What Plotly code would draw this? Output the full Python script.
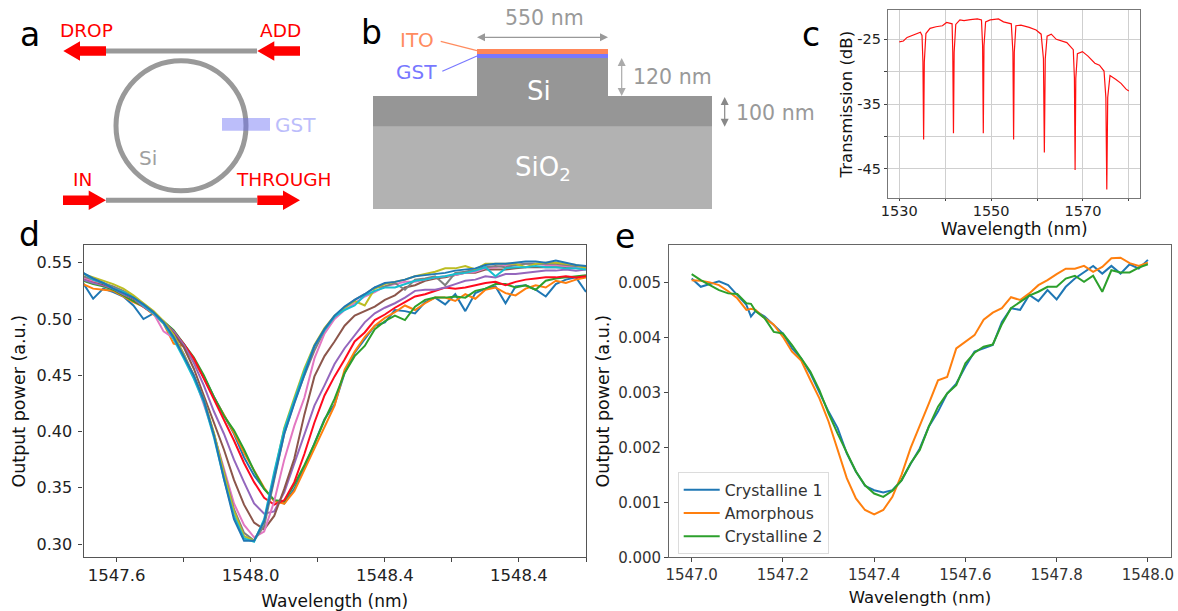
import plotly.graph_objects as go

W, H = 1178, 611
FONT = "DejaVu Sans"

# ---------- panel c ----------
c_wavelength = [1530, 1530.9, 1531.7, 1532.7, 1533.8, 1534.6, 1534.95, 1535.15, 1535.3, 1535.45, 1535.8,
                1536.7, 1538, 1539.4, 1540.3, 1541.5, 1541.65, 1541.8, 1541.95, 1542.3,
                1543.2, 1544.1, 1545.5, 1547, 1547.9, 1548.15, 1548.3, 1548.45, 1548.8,
                1549.8, 1551.6, 1552.7, 1554.4, 1554.75, 1554.9, 1555.05, 1555.4,
                1556.5, 1558.3, 1559.8, 1560.9, 1561.4, 1561.6, 1561.8, 1562.2,
                1563.1, 1564.2, 1565.4, 1566.5, 1567.9, 1568.15, 1568.3, 1568.45, 1568.8,
                1569.9, 1571.1, 1572.6, 1573.6, 1574.6, 1575.0, 1575.2, 1575.4, 1575.9,
                1577.2, 1578.3, 1579.4, 1580]
c_transmission = [-25.4, -25.25, -24.7, -24.4, -24.1, -23.9, -24.4, -28.5, -40.5, -28.5, -24.1,
                  -23.3, -23.05, -22.9, -22.4, -22.6, -27, -39.5, -27, -22.7,
                  -22, -22.1, -21.95, -21.85, -22, -26, -39.5, -26, -22.3,
                  -22, -21.85, -22.3, -22.6, -27, -40.5, -27, -22.9,
                  -22.8, -23.15, -23.55, -24.2, -28, -42.5, -28, -24.5,
                  -24.2, -25, -25.2, -25.5, -26.6, -31, -45.2, -31, -27.2,
                  -26.9, -27.6, -28.7, -29, -29.9, -34, -48.2, -34, -30.6,
                  -31.2, -31.8, -32.7, -33]
c_xticks = [1530, 1540, 1550, 1560, 1570, 1580]
c_xlabels = ["1530", "", "1550", "", "1570", ""]
c_yticks = [-25, -30, -35, -40, -45]
c_ylabels = ["-25", "", "-35", "", "-45"]

# ---------- panel d ----------
d_wavelength = [1547.50, 1547.53, 1547.56, 1547.59, 1547.62, 1547.65, 1547.68, 1547.71, 1547.74, 1547.77,
                1547.80, 1547.83, 1547.86, 1547.89, 1547.92, 1547.95, 1547.98, 1548.01, 1548.04, 1548.07,
                1548.10, 1548.13, 1548.16, 1548.19, 1548.22, 1548.25, 1548.28, 1548.31, 1548.34, 1548.37,
                1548.40, 1548.43, 1548.46, 1548.49, 1548.52, 1548.55, 1548.58, 1548.61, 1548.64, 1548.67,
                1548.70, 1548.73, 1548.76, 1548.79, 1548.82, 1548.85, 1548.88, 1548.91, 1548.94, 1548.97,
                1549.00]
d_s1 = [.532,.518,.527,.524,.520,.512,.500,.505,.497,.488,.478,.464,.449,.431,.414,.398,.377,.361,.349,.339,.336,.349,.368,.389,.411,.424,.452,.470,.482,.494,.497,.508,.507,.505,.515,.519,.513,.522,.507,.523,.527,.529,.514,.529,.530,.526,.520,.531,.535,.537,.524]
d_s2 = [.531,.527,.526,.525,.520,.515,.511,.504,.496,.478,.476,.463,.448,.430,.415,.399,.381,.366,.350,.338,.336,.347,.366,.386,.405,.423,.455,.471,.484,.494,.501,.506,.512,.508,.514,.519,.519,.516,.522,.518,.526,.528,.523,.521,.527,.530,.528,.534,.532,.535,.537]
d_s3 = [.534,.531,.529,.526,.521,.516,.511,.505,.498,.490,.478,.466,.450,.431,.414,.401,.384,.365,.349,.339,.338,.353,.370,.389,.410,.429,.452,.467,.476,.491,.498,.503,.499,.511,.517,.519,.519,.520,.519,.525,.527,.531,.531,.528,.530,.526,.534,.536,.537,.538,.539]
d_s4 = [.536,.533,.530,.527,.523,.518,.511,.505,.497,.489,.478,.465,.447,.429,.411,.392,.372,.355,.341,.335,.339,.355,.380,.408,.432,.449,.464,.480,.488,.499,.504,.510,.515,.520,.522,.525,.528,.527,.528,.530,.532,.533,.530,.533,.535,.536,.537,.537,.538,.537,.538]
d_s5 = [.535,.532,.530,.527,.522,.518,.511,.505,.497,.489,.477,.461,.441,.418,.398,.375,.355,.336,.327,.329,.346,.372,.398,.423,.441,.460,.474,.486,.497,.505,.510,.514,.519,.525,.526,.526,.528,.531,.534,.535,.538,.537,.540,.540,.541,.542,.543,.543,.544,.543,.544]
d_s6 = [.537,.534,.531,.528,.523,.518,.512,.506,.497,.487,.475,.456,.432,.408,.384,.357,.335,.319,.313,.325,.349,.376,.415,.449,.467,.480,.494,.503,.507,.511,.517,.521,.528,.530,.534,.536,.537,.539,.541,.541,.544,.544,.544,.545,.546,.546,.546,.546,.546,.546,.546]
d_s7 = [.537,.534,.532,.528,.523,.519,.512,.505,.489,.483,.469,.450,.424,.398,.367,.336,.317,.306,.311,.338,.375,.405,.430,.465,.487,.500,.508,.514,.520,.524,.529,.531,.533,.533,.535,.537,.538,.539,.541,.542,.545,.546,.548,.548,.549,.549,.548,.548,.547,.546,.546]
d_s8 = [.538,.535,.532,.529,.525,.520,.513,.506,.497,.486,.469,.449,.429,.398,.365,.331,.310,.303,.316,.356,.398,.426,.450,.472,.490,.502,.510,.517,.522,.528,.529,.532,.526,.535,.536,.538,.530,.541,.542,.544,.546,.547,.546,.548,.549,.549,.549,.549,.548,.547,.547]
d_s9 = [.540,.537,.534,.531,.527,.521,.514,.507,.498,.486,.468,.450,.428,.399,.363,.329,.307,.303,.320,.362,.403,.430,.456,.477,.492,.503,.510,.516,.512,.527,.531,.533,.535,.538,.540,.542,.545,.545,.547,.544,.549,.549,.549,.549,.546,.549,.550,.550,.549,.548,.545]
d_s10 = [.541,.535,.532,.527,.524,.519,.512,.505,.496,.482,.465,.447,.426,.395,.358,.325,.305,.302,.322,.364,.402,.428,.454,.476,.490,.502,.508,.512,.521,.525,.528,.528,.531,.534,.535,.537,.538,.540,.541,.543,.546,.538,.545,.546,.546,.547,.546,.546,.545,.545,.544]
d_s11 = [.541,.536,.532,.527,.523,.519,.513,.506,.497,.484,.467,.450,.428,.397,.358,.322,.303,.303,.320,.360,.398,.425,.451,.476,.491,.503,.511,.517,.522,.528,.532,.533,.535,.538,.539,.540,.541,.543,.544,.545,.548,.549,.549,.550,.551,.551,.550,.552,.550,.548,.547]
d_xticks = [1547.6, 1547.8, 1548.0, 1548.2, 1548.4, 1548.6, 1548.8, 1549.0]
d_xlabels = ["1547.6", "", "1548.0", "", "1548.4", "", "1548.4", ""]
d_yticks = [0.30, 0.35, 0.40, 0.45, 0.50, 0.55]
d_ylabels = ["0.30", "0.35", "0.40", "0.45", "0.50", "0.55"]

# ---------- panel e ----------
e_wavelength = [1547.00, 1547.02, 1547.04, 1547.06, 1547.08, 1547.10, 1547.12, 1547.13, 1547.14, 1547.16, 1547.18,
                1547.20, 1547.22, 1547.24, 1547.26, 1547.28, 1547.30, 1547.32, 1547.34, 1547.36, 1547.38,
                1547.40, 1547.42, 1547.44, 1547.46, 1547.48, 1547.50, 1547.52, 1547.54, 1547.56, 1547.58,
                1547.60, 1547.62, 1547.64, 1547.66, 1547.68, 1547.70, 1547.72, 1547.74, 1547.76, 1547.78,
                1547.80, 1547.82, 1547.84, 1547.86, 1547.88, 1547.90, 1547.92, 1547.94, 1547.96, 1547.98,
                1548.00]
e_crystalline_1 = [.00507,.00492,.00497,.00502,.00495,.00477,.00459,.00438,.00448,.00438,.00422,.00407,.0038,.00362,.00335,.00301,.00265,.00235,.00189,.00156,.0013,.00122,.00118,.00122,.0014,.0017,.00198,.00238,.00265,.00298,.00316,.00347,.00374,.0038,.00386,.00428,.00453,.0045,.00477,.00466,.00486,.00469,.00492,.00507,.00518,.0053,.00516,.0053,.00516,.00533,.00525,.00541]
e_amorphous = [.00504,.00503,.005,.00495,.00484,.00471,.0045,.00452,.0045,.00435,.00423,.00401,.00374,.00358,.00323,.00289,.00247,.00195,.00144,.00107,.00086,.00078,.00086,.0011,.0015,.00199,.00238,.0028,.00322,.00328,.0038,.00392,.00404,.00432,.00445,.00453,.00473,.00468,.0048,.00495,.00504,.00515,.00525,.00525,.0053,.00519,.00528,.00544,.00545,.00535,.0053,.00536]
e_crystalline_2 = [.00515,.00504,.00495,.00486,.0048,.00479,.00462,.00461,.00448,.00435,.0041,.00407,.00386,.00362,.00338,.00304,.00262,.00225,.00189,.00156,.00131,.00116,.0011,.00121,.0014,.00171,.00195,.00238,.00274,.00298,.00313,.00353,.00372,.00383,.00387,.00424,.00453,.00465,.00476,.00483,.00492,.00492,.00507,.00512,.00501,.00512,.00483,.00522,.00518,.00518,.00527,.00533]
e_names = ["Crystalline 1", "Amorphous", "Crystalline 2"]
e_xticks = [1547.0, 1547.2, 1547.4, 1547.6, 1547.8, 1548.0]
e_yticks = [0.000, 0.001, 0.002, 0.003, 0.004, 0.005]

TAB10 = ["#1f77b4", "#ff7f0e", "#2ca02c", "#ff0a1e", "#9467bd", "#8c564b",
         "#e377c2", "#7f7f7f", "#bcbd22", "#17becf", "#1f77b4"]
d_series = [d_s1, d_s2, d_s3, d_s4, d_s5, d_s6, d_s7, d_s8, d_s9, d_s10, d_s11]
for s in d_series:
    assert len(s) == len(d_wavelength)
for s in (e_crystalline_1, e_amorphous, e_crystalline_2):
    assert len(s) == len(e_wavelength)
assert len(c_wavelength) == len(c_transmission)


def px(x):
    return x / W


def py(y):
    return 1 - y / H


fig = go.Figure()

# data traces
fig.add_trace(go.Scatter(x=c_wavelength, y=c_transmission, mode="lines", xaxis="x", yaxis="y",
                         line=dict(color="#ff1010", width=1.2), showlegend=False))
for s, col in zip(d_series, TAB10):
    fig.add_trace(go.Scatter(x=d_wavelength, y=s, mode="lines", xaxis="x2", yaxis="y2",
                             line=dict(color=col, width=2), showlegend=False))
for name, s, col in zip(e_names, (e_crystalline_1, e_amorphous, e_crystalline_2), TAB10):
    fig.add_trace(go.Scatter(x=e_wavelength, y=s, mode="lines", name=name, xaxis="x3", yaxis="y3",
                             line=dict(color=col, width=2)))


def axis(a, b, rng, tickvals, ticktext, size, title, title_size, standoff,
         color="#222", line="#555", grid=False, anchor=None, vertical=False, ticklen=4, labelshift=0):
    dom = [py(b), py(a)] if vertical else [px(a), px(b)]
    return dict(domain=dom, range=rng, tickmode="array", tickvals=tickvals, ticktext=ticktext,
                tickfont=dict(size=size, color=color, family=FONT), ticks="outside", ticklen=ticklen,
                ticklabelstandoff=labelshift,
                tickcolor="#444", tickwidth=1, showline=True, linecolor=line, linewidth=1.3, mirror=True,
                showgrid=grid, gridcolor="#cfcfcf", gridwidth=1, zeroline=False, anchor=anchor, automargin=False,
                title=dict(text=title, standoff=standoff, font=dict(size=title_size, color="#111", family=FONT)))


layout = dict(
    width=W, height=H, autosize=False, margin=dict(l=0, r=0, t=0, b=0, pad=0, autoexpand=False),
    paper_bgcolor="white", plot_bgcolor="white",
    font=dict(family=FONT),
    xaxis=axis(888, 1140.3, [1527.54, 1582.5], c_xticks, c_xlabels, 14.5, "Wavelength (nm)", 17, 4,
               line="#777", grid=True, anchor="y", ticklen=2, labelshift=-3),
    yaxis=axis(10.3, 198, [-49.53, -20.51], c_yticks, c_ylabels, 14.5, "Transmission (dB)", 16.5, 0,
               line="#777", grid=True, anchor="x", vertical=True, ticklen=3),
    xaxis2=axis(83.5, 586, [1547.5012, 1549.0], d_xticks, d_xlabels, 16.5, "Wavelength (nm)", 17, 10,
                anchor="y2", labelshift=-1),
    yaxis2=axis(245.3, 557.3, [0.2882, 0.5655], d_yticks, d_ylabels, 16, "Output power (a.u.)", 17.5, 6,
                anchor="x2", vertical=True, labelshift=3),
    xaxis3=axis(669.3, 1170.7, [1546.951, 1548.05], e_xticks, [f"{v:.1f}" for v in e_xticks], 15,
                "Wavelength (nm)", 16.5, 7, color="#333", line="#666", anchor="y3"),
    yaxis3=axis(245, 557.3, [0, 0.00568], e_yticks, [f"{v:.3f}" for v in e_yticks], 15,
                "Output power (a.u.)", 17.5, 4, color="#333", line="#666", anchor="x3", vertical=True),
    legend=dict(x=px(677.7), y=py(472), xanchor="left", yanchor="top", bgcolor="rgba(255,255,255,0.8)",
                bordercolor="#dcdcdc", borderwidth=1, font=dict(size=15.6, color="#333", family=FONT),
                tracegroupgap=0, itemwidth=36),
)

shapes = []
GREY = "#999999"


def rect(x0, y0, x1, y1, color, opacity=1.0):
    shapes.append(dict(type="rect", xref="paper", yref="paper", x0=px(x0), x1=px(x1), y0=py(y1), y1=py(y0),
                       fillcolor=color, line=dict(width=0), opacity=opacity, layer="above"))


def poly(points, color):
    d = "M " + " L ".join(f"{px(x):.6f},{py(y):.6f}" for x, y in points) + " Z"
    shapes.append(dict(type="path", xref="paper", yref="paper", path=d, fillcolor=color,
                       line=dict(width=0), layer="above"))


def seg(x0, y0, x1, y1, color, width):
    shapes.append(dict(type="line", xref="paper", yref="paper", x0=px(x0), y0=py(y0), x1=px(x1), y1=py(y1),
                       line=dict(color=color, width=width), layer="above"))


def harrow(tail, tip, base, y, body=4.7, head=9.7, color="#ff0000"):
    poly([(tail, y - body), (base, y - body), (base, y - head), (tip, y), (base, y + head),
          (base, y + body), (tail, y + body)], color)


def dbl_h(x0, x1, y, color, hl=8, hw=4):
    seg(x0 + 3, y, x1 - 3, y, color, 1.2)
    poly([(x0, y), (x0 + hl, y - hw), (x0 + hl, y + hw)], color)
    poly([(x1, y), (x1 - hl, y - hw), (x1 - hl, y + hw)], color)


def dbl_v(x, y0, y1, color, hl=8, hw=4):
    seg(x, y0 + 3, x, y1 - 3, color, 1.2)
    poly([(x, y0), (x - hw, y0 + hl), (x + hw, y0 + hl)], color)
    poly([(x, y1), (x - hw, y1 - hl), (x + hw, y1 - hl)], color)


# schematic a
seg(106, 51, 257, 51, GREY, 5)
seg(106, 200.3, 257, 200.3, GREY, 5)
shapes.append(dict(type="circle", xref="paper", yref="paper", x0=px(116), x1=px(246), y0=py(190.7), y1=py(60.7),
                   line=dict(color=GREY, width=5), fillcolor="rgba(0,0,0,0)", layer="above"))
rect(222, 118, 270, 130.7, "#6a6ef5", 0.45)
harrow(106, 63.3, 80, 51)
harrow(300, 257.3, 274.3, 51)
harrow(63, 106, 88.7, 200.3)
harrow(257.3, 300, 283, 200.3)

# schematic b
rect(373, 126.7, 712, 209, "#b2b2b2")
rect(373, 96, 712, 126.7, "#969696")
rect(477, 58, 608, 96, "#969696")
rect(477, 54, 608, 58, "#7878ff")
rect(477, 49, 608, 54, "#ff8659")
seg(440.7, 41.3, 477, 50.7, "#ff8c5f", 1.2)
seg(442.3, 71.3, 477, 56, "#7878ff", 1.2)
dbl_h(477, 608, 37.3, "#999999")
dbl_v(621.7, 58, 96, "#aaaaaa")
dbl_v(724.7, 97, 126.7, "#888888")
layout["shapes"] = shapes

annotations = []


def label(x, y, text, size, color, anchor="center"):
    annotations.append(dict(x=px(x), y=py(y), xref="paper", yref="paper", text=text, showarrow=False,
                            xanchor=anchor, yanchor="middle", font=dict(size=size, color=color, family=FONT)))


for x, y, t in [(30, 34, "a"), (371.5, 33, "b"), (811, 34, "c"), (29.5, 235, "d"), (624.5, 236, "e")]:
    label(x, y, t, 33, "#000000")
label(86.3, 30, "DROP", 18.5, "#ff0000")
label(280.3, 30, "ADD", 18.5, "#ff0000")
label(82, 179.5, "IN", 18.5, "#ff0000")
label(283.3, 179.5, "THROUGH", 18.5, "#ff0000")
label(148, 158, "Si", 20, "#a0a0a0")
label(272.5, 125, "GST", 20, "#bcbdfb", "left")
label(416.7, 40, "ITO", 20, "#ff8c5f")
label(416.7, 71.7, "GST", 20, "#7878ff")
label(544, 17.7, "550 nm", 20.5, "#999999")
label(631, 77.3, "120 nm", 20.5, "#999999", "left")
label(733.5, 112.8, "100 nm", 20.5, "#999999", "left")
label(539.3, 90.7, "Si", 26, "#ffffff")
label(543, 168, "SiO<sub>2</sub>", 26, "#ffffff")
layout["annotations"] = annotations

fig.update_layout(**layout)
fig.write_html("out.html", config={"displayModeBar": False},
               post_script="document.body.style.margin='0';document.body.style.overflow='hidden';")
